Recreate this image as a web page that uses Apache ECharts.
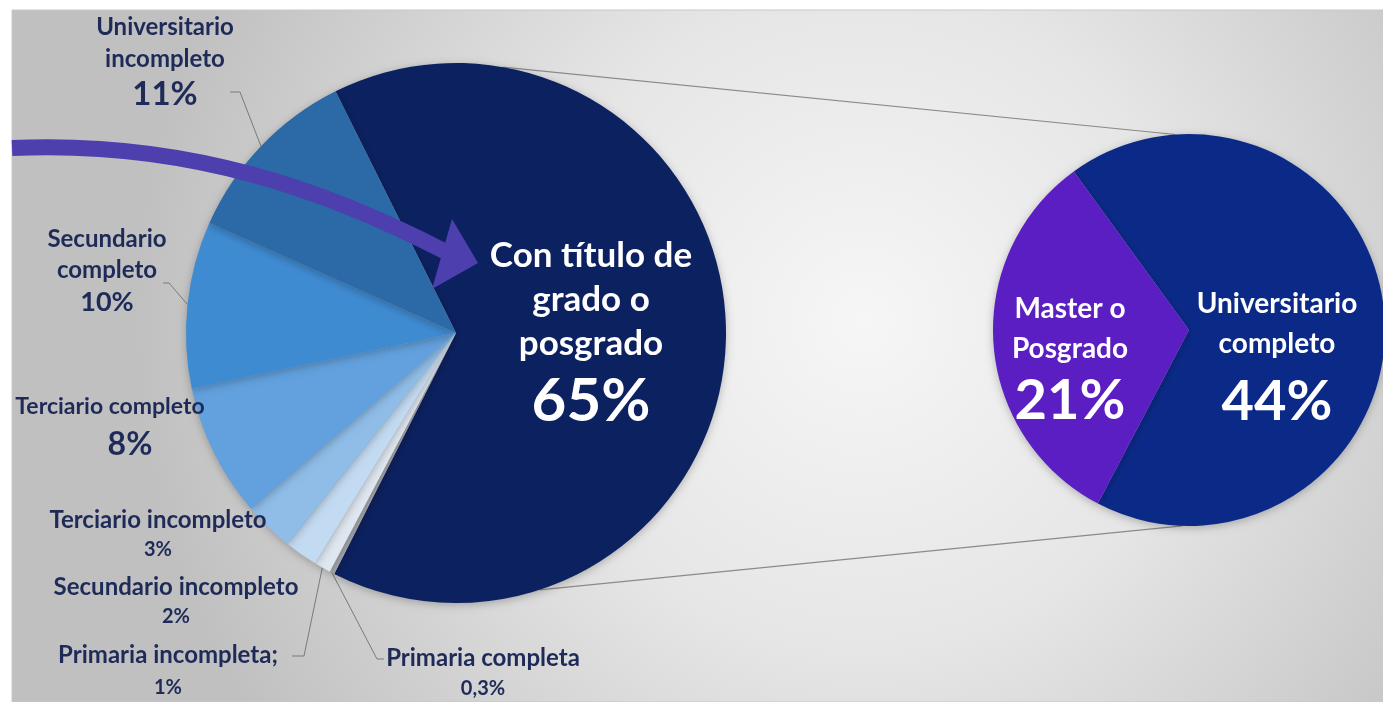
<!DOCTYPE html>
<html>
<head>
<meta charset="utf-8">
<script src="https://cdn.jsdelivr.net/npm/echarts@6/dist/echarts.min.js"></script>
<style>
  html, body { margin: 0; padding: 0; background: #fff; }
  #chart { width: 1383px; height: 702px; }
</style>
</head>
<body>
<div id="chart"></div>
<script>
// datos del gráfico principal (orden horario desde la porción grande)
const categories = ['Con título de grado o posgrado', 'Primaria completa', 'Primaria incompleta',
  'Secundario incompleto', 'Terciario incompleto', 'Terciario completo',
  'Secundario completo', 'Universitario incompleto'];
const values = [65, 0.3, 1, 2, 3, 8, 10, 11];
const labelTexts = ['Con título de\ngrado o\nposgrado', 'Primaria completa', 'Primaria incompleta;',
  'Secundario incompleto', 'Terciario incompleto', 'Terciario completo',
  'Secundario\ncompleto', 'Universitario\nincompleto'];

// desglose de la porción grande
const detailCategories = ['Universitario completo', 'Master o Posgrado'];
const detailValues = [44, 21];
const detailLabels = ['Universitario\ncompleto', 'Master o\nPosgrado'];

const mainColors = ['#0c2160', '#a4a7ad', '#dfe7f0', '#c3dbf2', '#8fbde8', '#62a1de', '#3f8bd2', '#2b6aa7'];
const detailColors = ['#0b2a88', '#5a1ec2'];
const navy = '#1e2a58';
const font = 'Lato';

const mainCenter = [456, 333], mainR = 270, mainStart = 116.5;
const detCenter = [1189, 330], detR = 196, detStart = 126;

const pct = v => String(v).replace('.', ',') + '%';

// posiciones de las etiquetas del pie principal
const mainLabelPos = [
  { x: 591, y: 336 },
  { x: 483, y: 673, line: [[377, 659], [384, 659]] },
  { x: 168, y: 671, line: [[304, 656], [292, 656]] },
  { x: 176, y: 602 },
  { x: 158, y: 535 },
  { x: 110, y: 427 },
  { x: 107, y: 271, line: [[169, 283], [163, 283]] },
  { x: 165, y: 62, line: [[240, 92], [230, 92]] }
];
// [tamaño, interlineado, color, desplazamiento del porcentaje]
const mainRich = [
  { n: [35, 44, '#fff'], p: [60, 72, 0] },
  { n: [24, 31, navy], p: [20, 30, 0] },
  { n: [24, 33, navy], p: [20, 32, 0] },
  { n: [24, 30, navy], p: [20, 30, 0] },
  { n: [24, 30, navy], p: [20, 30, 0] },
  { n: [23, 36, navy], p: [32, 40, 40] },
  { n: [24, 31, navy], p: [27, 33, 0] },
  { n: [24, 32, navy], p: [33, 38, 0] }
];

function edgePoint(i) {
  const total = values.reduce((a, b) => a + b, 0);
  let a = mainStart;
  for (let j = 0; j < i; j++) a -= values[j] / total * 360;
  a -= values[i] / total * 360 / 2;
  const rad = a * Math.PI / 180;
  return [mainCenter[0] + mainR * Math.cos(rad), mainCenter[1] - mainR * Math.sin(rad)];
}

function circlePoint(c, r, deg) {
  const rad = deg * Math.PI / 180;
  return [c[0] + r * Math.cos(rad), c[1] - r * Math.sin(rad)];
}

const mainData = categories.map((name, i) => {
  const st = mainRich[i];
  const inside = i === 0;
  return {
    name: name,
    value: values[i],
    itemStyle: { color: mainColors[i] },
    label: {
      show: true,
      position: inside ? 'inside' : 'outside',
      formatter: '{n|' + labelTexts[i] + '}\n{p|' + pct(values[i]) + '}',
      rich: {
        n: { fontFamily: font, fontWeight: 'bold', fontSize: st.n[0], lineHeight: st.n[1], color: st.n[2], align: 'center' },
        p: {
          fontFamily: font, fontWeight: 'bold', fontSize: st.p[0], lineHeight: st.p[1], color: st.n[2], align: 'center',
          padding: [0, 0, 0, st.p[2]]
        }
      }
    },
    labelLine: { show: !!mainLabelPos[i].line }
  };
});

const detailLabelPos = [{ x: 1277, y: 362 }, { x: 1070, y: 361 }];
const detailRich = [[80, 76], [80, 64]];
const detailData = detailCategories.map((name, i) => ({
  name: name,
  value: detailValues[i],
  itemStyle: { color: detailColors[i] },
  label: {
    show: true,
    position: 'inside',
    formatter: '{n|' + detailLabels[i] + '}\n{p|' + pct(detailValues[i]) + '}',
    rich: {
      n: { fontFamily: font, fontWeight: 'bold', fontSize: 28, lineHeight: detailRich[i][0] / 2, color: '#fff', align: 'center' },
      p: { fontFamily: font, fontWeight: 'bold', fontSize: 56, lineHeight: detailRich[i][1], color: '#fff', align: 'center' }
    }
  }
}));

const chart = echarts.init(document.getElementById('chart'));

const topA = circlePoint(mainCenter, mainR, 80), topB = circlePoint(detCenter, detR, 94);
const botA = circlePoint(mainCenter, mainR, -72), botB = circlePoint(detCenter, detR, -92);

const option = {
  animation: false,
  graphic: [
    {
      type: 'rect', z: -10, silent: true,
      shape: { x: 12, y: 10, width: 1371, height: 692 },
      style: {
        fill: new echarts.graphic.RadialGradient(0.62, 0.45, 1.05, [
          { offset: 0, color: '#f6f6f6' },
          { offset: 0.45, color: '#e6e6e6' },
          { offset: 1, color: '#c0c0c0' }
        ]),
        stroke: '#c8c8c8', lineWidth: 1
      }
    },
    {
      type: 'line', z: 1, silent: true,
      shape: { x1: topA[0], y1: topA[1], x2: topB[0], y2: topB[1] },
      style: { stroke: '#8a8a8a', lineWidth: 1.2 }
    },
    {
      type: 'line', z: 1, silent: true,
      shape: { x1: botA[0], y1: botA[1], x2: botB[0], y2: botB[1] },
      style: { stroke: '#8a8a8a', lineWidth: 1.2 }
    },
    // flecha curva hacia la porción grande
    {
      type: 'bezierCurve', z: 100, silent: true,
      shape: { x1: 12, y1: 148, cpx1: 190, cpy1: 140, cpx2: 330, cpy2: 192, x2: 446, y2: 252 },
      style: { stroke: '#4d3fae', lineWidth: 16, fill: null }
    },
    {
      type: 'polygon', z: 100, silent: true,
      shape: { points: [[452, 219], [478, 263], [432, 289]] },
      style: { fill: '#4d3fae' }
    }
  ],
  series: [
    {
      type: 'pie',
      center: mainCenter,
      radius: mainR,
      startAngle: mainStart,
      clockwise: true,
      avoidLabelOverlap: false,
      itemStyle: { shadowBlur: 8, shadowColor: 'rgba(0,0,0,0.25)', shadowOffsetY: 2 },
      labelLine: { lineStyle: { color: '#7a7a7a', width: 1 } },
      labelLayout: function (params) {
        const pos = mainLabelPos[params.dataIndex];
        const res = { x: pos.x, y: pos.y, align: 'center', verticalAlign: 'middle' };
        if (pos.line) res.labelLinePoints = [edgePoint(params.dataIndex), pos.line[0], pos.line[1]];
        return res;
      },
      data: mainData
    },
    {
      type: 'pie',
      center: detCenter,
      radius: detR,
      startAngle: detStart,
      clockwise: true,
      avoidLabelOverlap: false,
      itemStyle: { shadowBlur: 8, shadowColor: 'rgba(0,0,0,0.25)', shadowOffsetY: 2 },
      labelLayout: function (params) {
        const pos = detailLabelPos[params.dataIndex];
        return { x: pos.x, y: pos.y, align: 'center', verticalAlign: 'middle' };
      },
      data: detailData
    }
  ]
};

chart.setOption(option);
</script>
</body>
</html>
